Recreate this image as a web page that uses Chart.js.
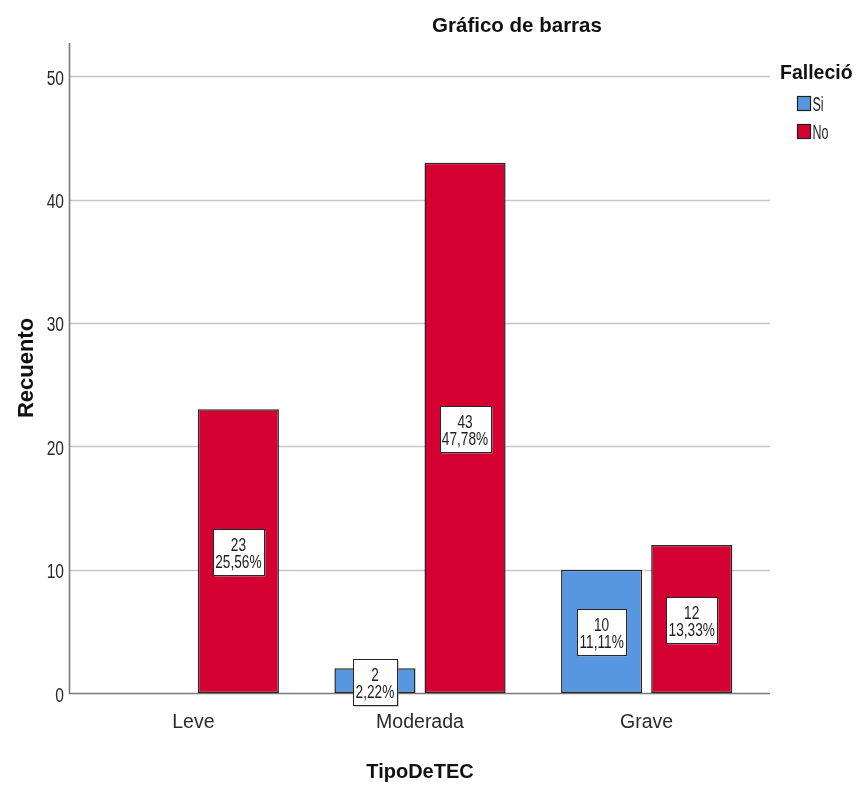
<!DOCTYPE html>
<html>
<head>
<meta charset="utf-8">
<script src="https://cdn.jsdelivr.net/npm/chart.js@4/dist/chart.umd.min.js"></script>
<style>
  html, body { margin: 0; padding: 0; background: #ffffff; }
  #wrap { width: 857px; height: 787px; position: relative; }
</style>
</head>
<body>
<div id="wrap"><canvas id="chart"></canvas></div>
<script>
// Counts per head-injury type, split by outcome
const categories = ['Leve', 'Moderada', 'Grave'];
const seriesNames = ['Si', 'No'];
const siCounts = [0, 2, 10];
const noCounts = [23, 43, 12];
const yTickValues = [0, 10, 20, 30, 40, 50];

const chartTitle = 'Gráfico de barras';
const legendTitle = 'Falleció';
const xTitle = 'TipoDeTEC';
const yTitle = 'Recuento';

const seriesColors = ['#5797e1', '#d50032'];
const SANS = '"Liberation Sans", Arial, sans-serif';

const total = siCounts.concat(noCounts).reduce((a, b) => a + b, 0);
const pct = v => (v / total * 100).toFixed(2).replace('.', ',') + '%';

// Text squeezed horizontally to get a condensed face
function narrowText(ctx, text, x, y, sx) {
  ctx.save();
  ctx.translate(x, y);
  ctx.scale(sx, 1);
  ctx.fillText(text, 0, 0);
  ctx.restore();
}

// Gridlines, axis lines and value-axis labels
const framePlugin = {
  id: 'frame',
  beforeDatasetsDraw(chart) {
    const { ctx, chartArea: a, scales: { y } } = chart;
    const x0 = a.left - 11, x1 = a.right + 10;
    ctx.save();
    ctx.strokeStyle = '#c6c6c6';
    ctx.lineWidth = 1.6;
    y.ticks.forEach(t => {
      if (t.value === 0) return;
      const py = Math.round(y.getPixelForValue(t.value)) + 0.5;
      ctx.beginPath(); ctx.moveTo(x0 + 1, py); ctx.lineTo(x1, py); ctx.stroke();
    });
    ctx.strokeStyle = '#7a7a7a';
    ctx.lineWidth = 1.6;
    const by = Math.round(a.bottom) + 0.5;
    ctx.beginPath(); ctx.moveTo(x0 + 0.5, a.top); ctx.lineTo(x0 + 0.5, by); ctx.lineTo(x1, by); ctx.stroke();

    ctx.fillStyle = '#2a2a2a';
    ctx.font = '19.5px ' + SANS;
    ctx.textAlign = 'right';
    ctx.textBaseline = 'alphabetic';
    y.ticks.forEach(t => {
      narrowText(ctx, String(t.value), x0 - 5, y.getPixelForValue(t.value) + 8.5, 0.8);
    });
    ctx.restore();
  }
};

// Count and percentage boxes centred on each bar
const valueBoxPlugin = {
  id: 'valueBoxes',
  afterDatasetsDraw(chart) {
    const { ctx } = chart;
    const sx = 0.76;
    ctx.save();
    ctx.font = '18px ' + SANS;
    ctx.textAlign = 'center';
    ctx.textBaseline = 'alphabetic';
    chart.data.datasets.forEach((ds, di) => {
      chart.getDatasetMeta(di).data.forEach((bar, i) => {
        const v = ds.data[i];
        if (!v) return;
        const lines = [String(v), pct(v)];
        const w = Math.round(Math.max(...lines.map(s => ctx.measureText(s).width)) * sx) + 5;
        const h = 46;
        const cx = bar.x, cy = (bar.y + bar.base) / 2 + 1;
        const left = Math.round(cx - w / 2) + 0.5, top = Math.round(cy - h / 2) + 0.5;
        ctx.fillStyle = '#a0a0a0';
        ctx.fillRect(left + 1, top + 1, w, h);
        ctx.fillStyle = '#ffffff';
        ctx.fillRect(left, top, w, h);
        ctx.strokeStyle = '#262626';
        ctx.lineWidth = 1;
        ctx.strokeRect(left, top, w, h);
        ctx.fillStyle = '#1e1e1e';
        narrowText(ctx, lines[0], cx, cy - 1, sx);
        narrowText(ctx, lines[1], cx, cy + 16, sx);
      });
    });
    ctx.restore();
  }
};

// Chart heading and the outcome legend on the right
const decorPlugin = {
  id: 'decor',
  afterDraw(chart) {
    const { ctx } = chart;
    ctx.save();
    ctx.fillStyle = '#111111';
    ctx.textBaseline = 'alphabetic';
    ctx.textAlign = 'center';
    ctx.font = 'bold 20.5px ' + SANS;
    ctx.fillText(chartTitle, 517, 31.5);

    ctx.textAlign = 'left';
    ctx.font = 'bold 19.5px ' + SANS;
    ctx.fillText(legendTitle, 780, 78.5);

    ctx.font = '19.5px ' + SANS;
    chart.data.datasets.forEach((ds, i) => {
      const top = 96.5 + i * 28;
      ctx.fillStyle = ds.backgroundColor;
      ctx.fillRect(797.5, top, 13, 14);
      ctx.strokeStyle = '#1e1e1e';
      ctx.lineWidth = 1.2;
      ctx.strokeRect(797.5, top, 13, 14);
      ctx.fillStyle = '#1e1e1e';
      narrowText(ctx, ds.label, 812.5, top + 14.5, 0.64);
    });
    ctx.restore();
  }
};

const barBorder = c => (c.raw === 0 ? 0 : 1.5);

new Chart(document.getElementById('chart'), {
  type: 'bar',
  data: {
    labels: categories,
    datasets: [
      { label: seriesNames[0], data: siCounts, backgroundColor: seriesColors[0],
        borderColor: '#262626', borderWidth: barBorder, borderSkipped: false },
      { label: seriesNames[1], data: noCounts, backgroundColor: seriesColors[1],
        borderColor: '#262626', borderWidth: barBorder, borderSkipped: false }
    ]
  },
  options: {
    responsive: true,
    maintainAspectRatio: false,
    animation: false,
    devicePixelRatio: 1,
    categoryPercentage: 0.795,
    barPercentage: 0.9,
    layout: { padding: { top: 43, right: 97, left: 0, bottom: 0 } },
    plugins: {
      legend: { display: false },
      title: { display: false },
      tooltip: { enabled: false }
    },
    scales: {
      x: {
        type: 'category',
        offset: true,
        grid: { display: false, drawTicks: false },
        border: { display: false },
        ticks: { color: '#2a2a2a', padding: 18, font: { family: SANS, size: 19.5 } },
        title: { display: true, text: xTitle, color: '#111111',
                 font: { family: SANS, size: 20, weight: 'bold' }, padding: { top: 0, bottom: 3 } },
        afterFit(scale) { scale.height = 94; }
      },
      y: {
        min: 0,
        max: 52.7,
        grid: { display: false, drawTicks: false },
        border: { display: false },
        ticks: { display: false },
        afterBuildTicks(scale) { scale.ticks = yTickValues.map(v => ({ value: v })); },
        title: { display: true, text: yTitle, color: '#111111',
                 font: { family: SANS, size: 22, weight: 'bold' }, padding: { top: 14, bottom: 0 } },
        afterFit(scale) { scale.width = 80; }
      }
    }
  },
  plugins: [framePlugin, valueBoxPlugin, decorPlugin]
});
</script>
</body>
</html>
